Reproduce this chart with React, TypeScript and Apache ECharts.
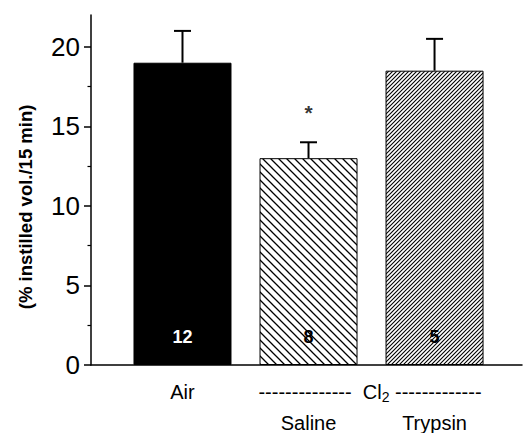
import React, { useEffect, useRef } from "react";
import * as echarts from "echarts";

const categories = ["Air", "Saline", "Trypsin"];
const groupLabel = "Cl";
const means = [19, 13, 18.5];
const sems = [2, 1, 2];
const nValues = ["12", "8", "5"];
const significance = ["", "*", ""];
const yTicks = [0, 5, 10, 15, 20];
const yTitle = "(% instilled vol./15 min)";

const FONT = "'Liberation Sans', Arial, Helvetica, sans-serif";

function hatch(size: number, dir: "back" | "fwd", lw: number): string {
  const c = document.createElement("canvas");
  c.width = size;
  c.height = size;
  const ctx = c.getContext("2d")!;
  ctx.fillStyle = "#fff";
  ctx.fillRect(0, 0, size, size);
  ctx.strokeStyle = "#000";
  ctx.lineWidth = lw;
  ctx.beginPath();
  if (dir === "back") {
    ctx.moveTo(-size, 0); ctx.lineTo(size, 2 * size);
    ctx.moveTo(0, 0); ctx.lineTo(size, size);
    ctx.moveTo(0, -size); ctx.lineTo(2 * size, size);
  } else {
    ctx.moveTo(0, size); ctx.lineTo(size, 0);
    ctx.moveTo(-size, size); ctx.lineTo(size, -size);
    ctx.moveTo(0, 2 * size); ctx.lineTo(2 * size, 0);
  }
  ctx.stroke();
  return c.toDataURL();
}

export default function App() {
  const ref = useRef<HTMLDivElement>(null);
  useEffect(() => {
    if (!ref.current) return;
    const chart = echarts.init(ref.current, null, { renderer: "svg" });
    const salinePat = { image: hatch(8, "back", 1.3), repeat: "repeat", imageWidth: 8, imageHeight: 8 };
    const trypsinPat = { image: hatch(4, "fwd", 1.1), repeat: "repeat", imageWidth: 4, imageHeight: 4 };
    const fills: any[] = ["#000", salinePat, trypsinPat];
    const labelColors = ["#fff", "#000", "#000"];
    const xs = categories.map((_, i) => i + 1);

    const gridLeft = 91, gridRight = 2, gridBottom = 68, plotBottom = 365;
    const unit = 350 / 22;
    const grid1Top = plotBottom - 20 * unit;

    chart.setOption({
      animation: false,
      grid: [
        { left: gridLeft, right: gridRight, top: 15, bottom: gridBottom },
        { left: gridLeft, right: gridRight, top: grid1Top, bottom: gridBottom },
      ],
      xAxis: [
        {
          type: "value", gridIndex: 0, min: 0.274, max: 3.694,
          axisLine: { show: true, onZero: false, lineStyle: { color: "#000", width: 1.5 } },
          axisTick: { show: false }, axisLabel: { show: false }, splitLine: { show: false },
        },
        {
          type: "value", gridIndex: 1, min: 0.274, max: 3.694, show: false,
        },
      ],
      yAxis: [
        {
          type: "value", gridIndex: 0, min: 0, max: 22,
          axisLine: { show: true, lineStyle: { color: "#000", width: 1.5 } },
          axisTick: { show: false }, axisLabel: { show: false }, splitLine: { show: false },
        },
        {
          type: "value", gridIndex: 1, min: yTicks[0], max: yTicks[yTicks.length - 1], interval: 5,
          axisLine: { show: false },
          axisTick: { show: true, length: 7, lineStyle: { color: "#000", width: 1.5 } },
          minorTick: { show: true, splitNumber: 2, length: 3.5, lineStyle: { color: "#000", width: 1.2 } },
          axisLabel: { show: true, fontSize: 26, color: "#000", fontFamily: FONT, margin: 11 },
          splitLine: { show: false },
        },
      ],
      series: [
        {
          type: "bar", xAxisIndex: 0, yAxisIndex: 0, barWidth: 98,
          data: xs.map((x, i) => ({
            value: [x, means[i]],
            itemStyle: { color: fills[i], borderColor: "#000", borderWidth: 1 },
            label: {
              show: true, position: "insideBottom", distance: 19, formatter: nValues[i],
              color: labelColors[i], fontSize: 18, fontWeight: "bold", fontFamily: FONT,
            },
          })),
        },
        {
          type: "custom", xAxisIndex: 0, yAxisIndex: 0, clip: false,
          data: xs.map((x, i) => [x, means[i], sems[i]]),
          renderItem: (params: any, api: any) => {
            const x = api.value(0), m = api.value(1), e = api.value(2);
            const p0 = api.coord([x, m]);
            const p1 = api.coord([x, m + e]);
            const hw = 8.5;
            return {
              type: "group",
              children: [
                { type: "line", shape: { x1: p0[0], y1: p0[1], x2: p1[0], y2: p1[1] }, style: { stroke: "#000", lineWidth: 2 } },
                { type: "line", shape: { x1: p1[0] - hw, y1: p1[1], x2: p1[0] + hw, y2: p1[1] }, style: { stroke: "#000", lineWidth: 2 } },
              ],
            };
          },
        },
        {
          type: "scatter", xAxisIndex: 0, yAxisIndex: 0, symbolSize: 1,
          itemStyle: { color: "rgba(0,0,0,0)" },
          data: xs.map((x, i) => ({
            value: [x, means[i] + sems[i] + 1.85],
            label: { show: significance[i] !== "", formatter: significance[i], position: "inside", fontSize: 21, fontWeight: "bold", color: "#000", fontFamily: FONT },
          })),
        },
      ],
    });

    const px = xs.map((x) => chart.convertToPixel({ xAxisIndex: 0 }, x) as number);
    const yRow1 = 392, yRow2 = 423;
    const left = "-".repeat(14), right = "-".repeat(13);
    chart.setOption({
      graphic: [
        {
          type: "text", x: 25, y: (grid1Top + plotBottom) / 2 + 1, rotation: Math.PI / 2,
          style: { text: yTitle, fontSize: 18.5, fontWeight: "bold", fill: "#000", fontFamily: FONT, align: "center", verticalAlign: "middle" },
        },
        { type: "text", x: px[0], y: yRow1, style: { text: categories[0], fontSize: 20, fill: "#000", fontFamily: FONT, align: "center", verticalAlign: "middle" } },
        {
          type: "text", x: (px[1] + px[2]) / 2 - 1.5, y: yRow1,
          style: {
            text: `${left}  ${groupLabel}{sub|2} ${right}`,
            fontSize: 20, fill: "#000", fontFamily: FONT, align: "center", verticalAlign: "middle",
            rich: { sub: { fontSize: 14, fontFamily: FONT, fill: "#000", padding: [10, 0, 0, 0] } },
          },
        },
        { type: "text", x: px[1], y: yRow2, style: { text: categories[1], fontSize: 20, fill: "#000", fontFamily: FONT, align: "center", verticalAlign: "middle" } },
        { type: "text", x: px[2], y: yRow2, style: { text: categories[2], fontSize: 20, fill: "#000", fontFamily: FONT, align: "center", verticalAlign: "middle" } },
      ],
    });

    return () => chart.dispose();
  }, []);
  return <div ref={ref} style={{ width: 524, height: 433, position: "absolute", left: 0, top: 0 }} />;
}
